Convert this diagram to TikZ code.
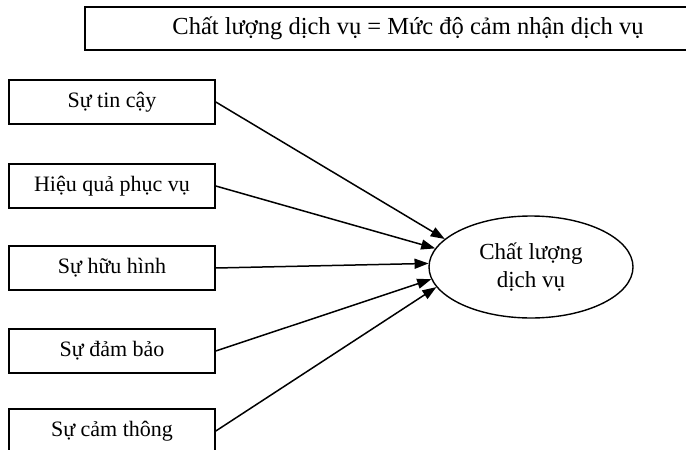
\documentclass[tikz,border=0pt]{standalone}
\usepackage{fontspec}
\setmainfont{Liberation Serif}
\usetikzlibrary{shapes.geometric,arrows.meta}
\begin{document}
\begin{tikzpicture}[x=1pt,y=-1pt,
  box/.style={draw, line width=1.6pt, minimum width=206pt, minimum height=44pt, inner sep=0pt, font=\fontsize{22}{26}\selectfont},
  arr/.style={line width=1.5pt, -{Triangle[length=14pt,width=10pt]}}]
\useasboundingbox (0,0) rectangle (686,450);
\clip (0,0) rectangle (686,450);
\node[box, minimum width=646pt, minimum height=43pt, font=\fontsize{24.5}{28}\selectfont] (top) at (408,28.5) {Chất lượng dịch vụ = Mức độ cảm nhận dịch vụ};
\node[box] (b1) at (112,102) {Sự tin cậy};
\node[box] (b2) at (112,186) {Hiệu quả phục vụ};
\node[box] (b3) at (112,268) {Sự hữu hình};
\node[box] (b4) at (112,351) {Sự đảm bảo};
\node[box] (b5) at (112,431) {Sự cảm thông};
\node[draw, ellipse, line width=1.4pt, minimum width=204pt, minimum height=102pt, inner sep=0pt, align=center, font=\fontsize{23}{28}\selectfont] (e) at (531,267) {Chất lượng\\dịch vụ};
\draw[arr] (b1.east) -- (e.162);
\draw[arr] (b2.east) -- (e.169);
\draw[arr] (b3.east) -- (e.178);
\draw[arr] (b4.east) -- (e.187);
\draw[arr] (b5.east) -- (e.192);
\end{tikzpicture}
\end{document}
